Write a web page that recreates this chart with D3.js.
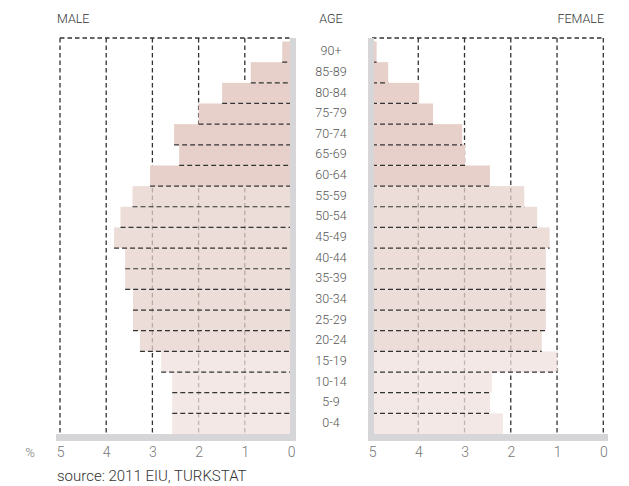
<!DOCTYPE html>
<html>
<head>
<meta charset="utf-8">
<script src="https://cdn.jsdelivr.net/npm/d3@7"></script>
<style>
  body { margin: 0; background: #fff; }
  text { font-family: Roboto, "Noto Sans", sans-serif; }
</style>
</head>
<body>
<svg id="chart"></svg>
<script>
// age bands, oldest first
const ages = ["90+", "85-89", "80-84", "75-79", "70-74", "65-69", "60-64", "55-59", "50-54",
  "45-49", "40-44", "35-39", "30-34", "25-29", "20-24", "15-19", "10-14", "5-9", "0-4"];
// share of population, %
const male = [0.19, 0.87, 1.49, 2.0, 2.53, 2.42, 3.05, 3.43, 3.69, 3.83, 3.59, 3.59,
  3.42, 3.42, 3.27, 2.81, 2.57, 2.57, 2.57];
const female = [0.1, 0.35, 1.02, 1.32, 1.95, 2.01, 2.55, 3.29, 3.57, 3.84, 3.76, 3.76,
  3.76, 3.76, 3.67, 4.01, 2.59, 2.55, 2.83];
// age group used for shading
const groups = ["60+", "60+", "60+", "60+", "60+", "60+", "60+", "20-59", "20-59", "20-59",
  "20-59", "20-59", "20-59", "20-59", "20-59", "0-19", "0-19", "0-19", "0-19"];
const ticks = [0, 1, 2, 3, 4, 5];

const width = 629, height = 486;
const boxTop = 38, bandTop = 41.5, boxBottom = 434;

const svg = d3.select("#chart").attr("width", width).attr("height", height);

const xM = d3.scaleLinear().domain([0, 5]).range([291, 60]);
const xF = d3.scaleLinear().domain([0, 5]).range([372, 603.3]);
const y = d3.scaleBand().domain(ages).range([bandTop, boxBottom]).padding(0);

const fill = d3.scaleOrdinal().domain(["60+", "20-59", "0-19"])
  .range(["#e8d0ca", "#e6d2cb", "#efe0dc"]);
const alpha = d3.scaleOrdinal().domain(["60+", "20-59", "0-19"]).range([1, 0.75, 0.75]);

const rows = ages.map((a, i) => ({ age: a, m: male[i], f: female[i], g: groups[i] }));

// vertical dashed grid and top edge
const grid = svg.append("g").attr("stroke", "#333").attr("stroke-width", 1.3)
  .attr("stroke-dasharray", "4.5,3").attr("fill", "none");
grid.selectAll(".gm").data(ticks.filter(t => t > 0)).enter().append("line")
  .attr("x1", d => xM(d)).attr("x2", d => xM(d)).attr("y1", boxTop).attr("y2", boxBottom);
grid.selectAll(".gf").data(ticks.filter(t => t > 0)).enter().append("line")
  .attr("x1", d => xF(d)).attr("x2", d => xF(d)).attr("y1", boxTop).attr("y2", boxBottom);
grid.append("line").attr("x1", xM(5)).attr("x2", xM(0)).attr("y1", boxTop).attr("y2", boxTop);
grid.append("line").attr("x1", xF(0)).attr("x2", xF(5)).attr("y1", boxTop).attr("y2", boxTop);

// bars
svg.append("g").selectAll("rect").data(rows).enter().append("rect")
  .attr("x", d => xM(d.m)).attr("width", d => xM(0) - xM(d.m))
  .attr("y", d => y(d.age)).attr("height", y.bandwidth())
  .attr("fill", d => fill(d.g)).attr("fill-opacity", d => alpha(d.g));
svg.append("g").selectAll("rect").data(rows).enter().append("rect")
  .attr("x", xF(0)).attr("width", d => xF(d.f) - xF(0))
  .attr("y", d => y(d.age)).attr("height", y.bandwidth())
  .attr("fill", d => fill(d.g)).attr("fill-opacity", d => alpha(d.g));

// dashed bottom edge of each bar
const edges = svg.append("g").attr("stroke", "#333").attr("stroke-width", 1.2)
  .attr("stroke-dasharray", "5,3");
edges.selectAll(".em").data(rows.slice(0, -1)).enter().append("line")
  .attr("x1", d => xM(d.m)).attr("x2", xM(0))
  .attr("y1", d => y(d.age) + y.bandwidth()).attr("y2", d => y(d.age) + y.bandwidth());
edges.selectAll(".ef").data(rows.slice(0, -1)).enter().append("line")
  .attr("x1", xF(0)).attr("x2", d => xF(d.f))
  .attr("y1", d => y(d.age) + y.bandwidth()).attr("y2", d => y(d.age) + y.bandwidth());

// grey baselines
const base = svg.append("g").attr("fill", "#d6d6d8");
base.append("rect").attr("x", xM(0) - 1).attr("y", boxTop).attr("width", 6).attr("height", boxBottom + 7 - boxTop);
base.append("rect").attr("x", 56).attr("y", boxBottom).attr("width", xM(0) + 5 - 56).attr("height", 7);
base.append("rect").attr("x", xF(0) - 4).attr("y", boxTop).attr("width", 6).attr("height", boxBottom + 7 - boxTop);
base.append("rect").attr("x", xF(0) - 4).attr("y", boxBottom).attr("width", 608 - (xF(0) - 4)).attr("height", 7);

// axes
const axM = svg.append("g").attr("transform", `translate(0,${boxBottom + 7})`)
  .call(d3.axisBottom(xM).tickValues(ticks).tickSize(0).tickPadding(6).tickFormat(d3.format("d")));
const axF = svg.append("g").attr("transform", `translate(0,${boxBottom + 7})`)
  .call(d3.axisBottom(xF).tickValues(ticks).tickSize(0).tickPadding(6).tickFormat(d => 5 - d));
[axM, axF].forEach(ax => {
  ax.select(".domain").remove();
  ax.selectAll("text").attr("fill", "#777").style("font-size", "14px")
    .style("font-family", "Roboto, sans-serif").style("font-weight", 300);
});
svg.append("text").attr("x", 30).attr("y", 457).attr("text-anchor", "middle")
  .attr("fill", "#777").style("font-size", "13px").style("font-weight", 300).text("%");

// age labels
svg.append("g").selectAll("text").data(ages).enter().append("text")
  .attr("x", 331).attr("y", d => y(d) + y.bandwidth() / 2 - 1)
  .attr("dy", "0.35em").attr("text-anchor", "middle")
  .attr("fill", "#555").style("font-size", "12.5px").style("font-weight", 300)
  .text(d => d);

// headers
const head = svg.append("g").attr("fill", "#333").style("font-size", "12.5px").style("font-weight", 300);
head.append("text").attr("x", 57).attr("y", 23).text("MALE");
head.append("text").attr("x", 331).attr("y", 23).attr("text-anchor", "middle").text("AGE");
head.append("text").attr("x", 604).attr("y", 23).attr("text-anchor", "end").text("FEMALE");

svg.append("text").attr("x", 57).attr("y", 481).attr("fill", "#333")
  .style("font-size", "15px").style("font-weight", 300).text("source: 2011 EIU, TURKSTAT");
</script>
</body>
</html>
